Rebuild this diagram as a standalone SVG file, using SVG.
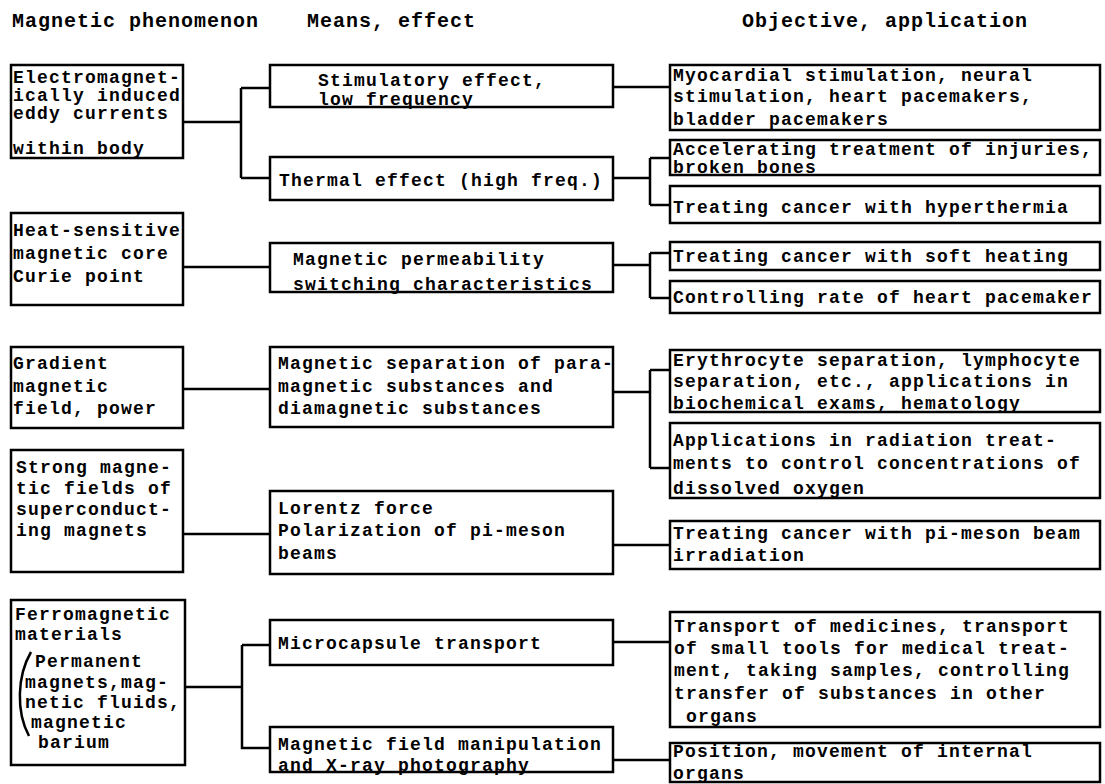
<svg xmlns="http://www.w3.org/2000/svg" width="1105" height="784" viewBox="0 0 1105 784">
  <style>
    .box { fill: #fff; stroke: #000; stroke-width: 2.5; }
    .wire { fill: none; stroke: #000; stroke-width: 2.5; }
    .t { font-family: "Liberation Mono", "DejaVu Sans Mono", monospace; font-size: 18px; letter-spacing: 1.2px; font-weight: bold; fill: #000; }
    .h { font-family: "Liberation Mono", "DejaVu Sans Mono", monospace; font-size: 20px; font-weight: bold; letter-spacing: 1px; fill: #000; }
  </style>
  <rect width="1105" height="784" fill="#fff"/>

  <!-- column headings -->
  <g id="headings">
    <text class="h" x="12" y="27">Magnetic phenomenon</text>
    <text class="h" x="307" y="27">Means, effect</text>
    <text class="h" x="742" y="27">Objective, application</text>
  </g>

  <!-- connectors -->
  <g id="connectors" class="wire">
    <path d="M183,122 H241 M241,88 V178 M241,88 H270 M241,178 H270"/>
    <path d="M613,87 H670"/>
    <path d="M613,178 H650 M650,158 V205 M650,158 H670 M650,205 H670"/>
    <path d="M183,267 H270"/>
    <path d="M613,265 H650 M650,253 V298 M650,253 H670 M650,298 H670"/>
    <path d="M183,389 H270"/>
    <path d="M613,392 H650 M650,370 V468 M650,370 H670 M650,468 H670"/>
    <path d="M183,534 H270"/>
    <path d="M613,545 H670"/>
    <path d="M185,687 H242 M242,645 V748 H270 M242,645 H270"/>
    <path d="M613,642 H670"/>
    <path d="M613,760 H670"/>
  </g>

  <!-- phenomena -->
  <g id="eddy-currents">
    <rect class="box" x="11" y="65" width="172" height="93"/>
    <text class="t"><tspan x="13" y="83">Electromagnet-</tspan><tspan x="13" y="101">ically induced</tspan><tspan x="13" y="119">eddy currents</tspan><tspan x="13" y="154">within body</tspan></text>
  </g>
  <g id="curie-core">
    <rect class="box" x="11" y="213" width="172" height="92"/>
    <text class="t"><tspan x="13" y="236">Heat-sensitive</tspan><tspan x="13" y="259">magnetic core</tspan><tspan x="13" y="282">Curie point</tspan></text>
  </g>
  <g id="gradient-field">
    <rect class="box" x="11" y="347" width="172" height="81"/>
    <text class="t"><tspan x="13" y="369">Gradient</tspan><tspan x="13" y="392">magnetic</tspan><tspan x="13" y="414">field, power</tspan></text>
  </g>
  <g id="superconducting">
    <rect class="box" x="11" y="450" width="172" height="122"/>
    <text class="t"><tspan x="16" y="473">Strong magne-</tspan><tspan x="16" y="494">tic fields of</tspan><tspan x="16" y="515">superconduct-</tspan><tspan x="16" y="536">ing magnets</tspan></text>
  </g>
  <g id="ferromagnetic">
    <rect class="box" x="11" y="600" width="174" height="165"/>
    <text class="t"><tspan x="15" y="620">Ferromagnetic</tspan><tspan x="15" y="640">materials</tspan><tspan x="35" y="667">Permanent</tspan><tspan x="25" y="688">magnets,mag-</tspan><tspan x="25" y="708">netic fluids,</tspan><tspan x="31" y="728">magnetic</tspan><tspan x="38" y="748">barium</tspan></text>
    <path class="wire" d="M31,652 C17,676 16,712 29,736"/>
  </g>

  <!-- means / effects -->
  <g id="stimulatory">
    <rect class="box" x="270" y="65" width="343" height="42"/>
    <text class="t"><tspan x="318" y="86">Stimulatory effect,</tspan><tspan x="318" y="105">low frequency</tspan></text>
  </g>
  <g id="thermal">
    <rect class="box" x="270" y="157" width="343" height="43"/>
    <text class="t" x="279" y="186">Thermal effect (high freq.)</text>
  </g>
  <g id="permeability">
    <rect class="box" x="270" y="243" width="343" height="49"/>
    <text class="t"><tspan x="293" y="265">Magnetic permeability</tspan><tspan x="293" y="290">switching characteristics</tspan></text>
  </g>
  <g id="separation">
    <rect class="box" x="270" y="347" width="343" height="80"/>
    <text class="t"><tspan x="278" y="369">Magnetic separation of para-</tspan><tspan x="278" y="392">magnetic substances and</tspan><tspan x="278" y="414">diamagnetic substances</tspan></text>
  </g>
  <g id="lorentz">
    <rect class="box" x="270" y="491" width="343" height="83"/>
    <text class="t"><tspan x="278" y="514">Lorentz force</tspan><tspan x="278" y="536">Polarization of pi-meson</tspan><tspan x="278" y="559">beams</tspan></text>
  </g>
  <g id="microcapsule">
    <rect class="box" x="270" y="620" width="343" height="45"/>
    <text class="t" x="278" y="649">Microcapsule transport</text>
  </g>
  <g id="xray">
    <rect class="box" x="270" y="727" width="343" height="45"/>
    <text class="t"><tspan x="278" y="750">Magnetic field manipulation</tspan><tspan x="278" y="771">and X-ray photography</tspan></text>
  </g>

  <!-- objectives / applications -->
  <g id="pacemakers">
    <rect class="box" x="670" y="65" width="430" height="65"/>
    <text class="t"><tspan x="673" y="81">Myocardial stimulation, neural</tspan><tspan x="673" y="102">stimulation, heart pacemakers,</tspan><tspan x="673" y="125">bladder pacemakers</tspan></text>
  </g>
  <g id="injuries">
    <rect class="box" x="670" y="140" width="430" height="35"/>
    <text class="t"><tspan x="673" y="155">Accelerating treatment of injuries,</tspan><tspan x="673" y="173">broken bones</tspan></text>
  </g>
  <g id="hyperthermia">
    <rect class="box" x="670" y="186" width="430" height="37"/>
    <text class="t" x="673" y="213">Treating cancer with hyperthermia</text>
  </g>
  <g id="soft-heating">
    <rect class="box" x="670" y="242" width="430" height="28"/>
    <text class="t" x="673" y="262">Treating cancer with soft heating</text>
  </g>
  <g id="pacemaker-rate">
    <rect class="box" x="670" y="281" width="430" height="32"/>
    <text class="t" x="673" y="303">Controlling rate of heart pacemaker</text>
  </g>
  <g id="cell-separation">
    <rect class="box" x="670" y="350" width="430" height="62"/>
    <text class="t"><tspan x="673" y="366">Erythrocyte separation, lymphocyte</tspan><tspan x="673" y="387">separation, etc., applications in</tspan><tspan x="673" y="409">biochemical exams, hematology</tspan></text>
  </g>
  <g id="oxygen">
    <rect class="box" x="670" y="423" width="430" height="75"/>
    <text class="t"><tspan x="673" y="446">Applications in radiation treat-</tspan><tspan x="673" y="469">ments to control concentrations of</tspan><tspan x="673" y="494">dissolved oxygen</tspan></text>
  </g>
  <g id="pi-meson">
    <rect class="box" x="670" y="521" width="430" height="48"/>
    <text class="t"><tspan x="673" y="539">Treating cancer with pi-meson beam</tspan><tspan x="673" y="561">irradiation</tspan></text>
  </g>
  <g id="transport">
    <rect class="box" x="670" y="612" width="430" height="115"/>
    <text class="t"><tspan x="674" y="632">Transport of medicines, transport</tspan><tspan x="674" y="654">of small tools for medical treat-</tspan><tspan x="674" y="676">ment, taking samples, controlling</tspan><tspan x="674" y="699">transfer of substances in other</tspan><tspan x="686" y="722">organs</tspan></text>
  </g>
  <g id="organs">
    <rect class="box" x="670" y="743" width="430" height="39"/>
    <text class="t"><tspan x="673" y="757">Position, movement of internal</tspan><tspan x="673" y="779">organs</tspan></text>
  </g>
</svg>
